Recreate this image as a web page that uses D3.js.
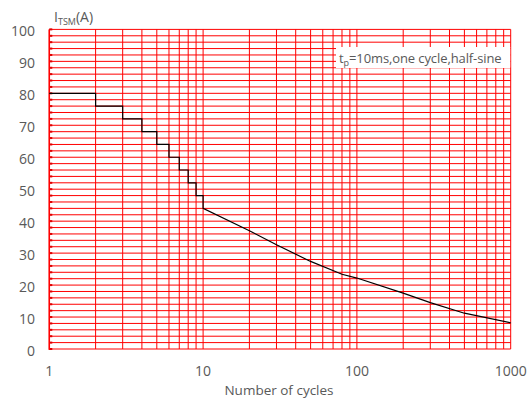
<!DOCTYPE html>
<html>
<head>
<meta charset="utf-8">
<script src="https://cdn.jsdelivr.net/npm/d3@7"></script>
<style>
  body { margin: 0; background: #fff; }
  text { font-family: "Open Sans", sans-serif; fill: #595959; }
</style>
</head>
<body>
<svg width="532" height="401"></svg>
<script>
// step part (1..10 cycles) and smooth decay part (10..1000 cycles)
const stepCycles = [1, 2, 3, 4, 5, 6, 7, 8, 9, 10];
const stepCurrent = [80, 76, 72, 68, 64, 60, 56, 52, 48, 44];
const decayCycles = [10, 20, 30, 50, 80, 100, 200, 300, 500, 1000];
const decayCurrent = [44, 37, 32.6, 27.4, 23.4, 22.2, 17.5, 14.5, 11.2, 8.2];

const xTicks = [1, 10, 100, 1000];
const yTicks = [0, 10, 20, 30, 40, 50, 60, 70, 80, 90, 100];

const svg = d3.select("svg");

const x = d3.scaleLog().domain([1, 1000]).range([49.3, 510.7]);
const y = d3.scaleLinear().domain([0, 100]).range([349, 29.4]);

// minor x positions: 1..9, 10..90, 100..900, 1000
const xGrid = [];
[1, 10, 100].forEach((dec) => {
  for (let i = 1; i < 10; i++) xGrid.push(dec * i);
});
xGrid.push(1000);
const yGrid = d3.range(0, 101, 2);

const grid = svg.append("g");

grid
  .selectAll("line.h")
  .data(yGrid)
  .enter()
  .append("line")
  .attr("class", "h")
  .attr("x1", x(1))
  .attr("x2", x(1000))
  .attr("y1", (d) => y(d))
  .attr("y2", (d) => y(d))
  .attr("stroke", "#ff0000")
  .attr("stroke-width", 1);

grid
  .selectAll("line.v")
  .data(xGrid)
  .enter()
  .append("line")
  .attr("class", "v")
  .attr("x1", (d) => x(d))
  .attr("x2", (d) => x(d))
  .attr("y1", y(0))
  .attr("y2", y(100))
  .attr("stroke", "#ff0000")
  .attr("stroke-width", 1);

// small ticks on the left axis
grid
  .selectAll("line.t")
  .data(yGrid)
  .enter()
  .append("line")
  .attr("x1", x(1))
  .attr("x2", x(1) + 3)
  .attr("y1", (d) => y(d))
  .attr("y2", (d) => y(d))
  .attr("stroke", "#e00000")
  .attr("stroke-width", 2);

grid
  .append("line")
  .attr("x1", x(1))
  .attr("x2", x(1))
  .attr("y1", y(0) + 1)
  .attr("y2", y(100))
  .attr("stroke", "#ff0000")
  .attr("stroke-width", 1.5);

// annotation box
svg
  .append("rect")
  .attr("x", 336)
  .attr("y", 47)
  .attr("width", x(1000) - 336 - 0.5)
  .attr("height", 21)
  .attr("fill", "#fff");

const note = svg
  .append("text")
  .attr("x", 339)
  .attr("y", 63)
  .attr("font-size", 13)
  .attr("letter-spacing", -0.1);
note.append("tspan").text("t");
note.append("tspan").attr("font-size", 9).attr("dy", 3).text("p");
note.append("tspan").attr("dy", -3).text("=10ms,one cycle,half-sine");

// curve
const stepPts = [];
stepCycles.forEach((c, i) => {
  stepPts.push([c, stepCurrent[i]]);
  if (i < stepCycles.length - 1) stepPts.push([stepCycles[i + 1], stepCurrent[i]]);
});
const pts = stepPts.concat(
  decayCycles.slice(1).map((c, i) => [c, decayCurrent[i + 1]])
);

const line = d3
  .line()
  .x((d) => x(d[0]))
  .y((d) => y(d[1]));

svg
  .append("path")
  .datum(pts)
  .attr("d", line)
  .attr("fill", "none")
  .attr("stroke", "#000")
  .attr("stroke-width", 1.2);

// tick labels
svg
  .selectAll("text.yl")
  .data(yTicks)
  .enter()
  .append("text")
  .attr("class", "yl")
  .attr("x", 35)
  .attr("y", (d) => y(d) + 7)
  .attr("text-anchor", "end")
  .attr("font-size", 14)
  .text((d) => d);

svg
  .selectAll("text.xl")
  .data(xTicks)
  .enter()
  .append("text")
  .attr("class", "xl")
  .attr("x", (d) => x(d))
  .attr("y", 376)
  .attr("text-anchor", "middle")
  .attr("font-size", 14)
  .text((d) => d);

svg
  .append("text")
  .attr("x", 279)
  .attr("y", 395)
  .attr("text-anchor", "middle")
  .attr("font-size", 13.5)
  .text("Number of cycles");

const yt = svg.append("text").attr("x", 54).attr("y", 22).attr("font-size", 14);
yt.append("tspan").text("I");
yt.append("tspan").attr("font-size", 9).attr("dy", 3).text("TSM");
yt.append("tspan").attr("dy", -3).text("(A)");
</script>
</body>
</html>
